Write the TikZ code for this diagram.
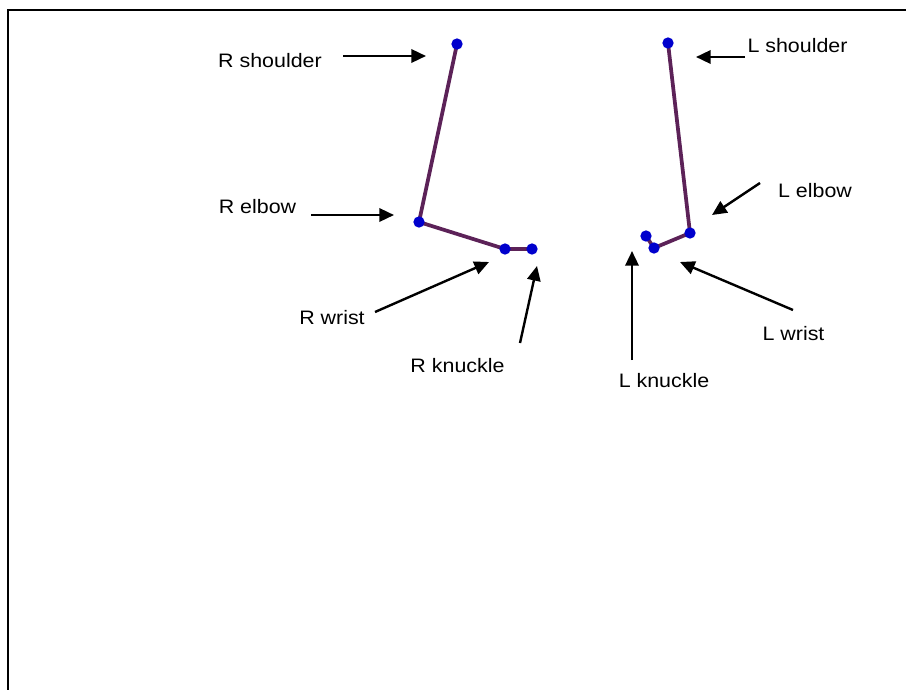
\documentclass[tikz,border=0pt]{standalone}
\usepackage{fontspec}
\setmainfont{Liberation Sans}
\usetikzlibrary{arrows.meta}
\definecolor{limb}{RGB}{92,34,88}
\definecolor{joint}{RGB}{0,0,205}
\tikzset{
  lbl/.style={inner sep=0pt, anchor=center},
  ptr/.style={draw=black, line width=1.8pt, -{Triangle[length=11pt,width=10pt]}},
  limbline/.style={draw=limb, line width=2.8pt, line join=round},
  jointdot/.style={circle, fill=joint, inner sep=0pt, minimum size=8.5pt},
  frame/.style={draw=black, line width=1.8pt}
}
\newcommand{\lbltext}[1]{\scalebox{1.1}[1]{\fontsize{14.6}{17}\selectfont #1}}
\begin{document}
\begin{tikzpicture}[x=0.75pt,y=-0.75pt]
\useasboundingbox (0,0) rectangle (906,689);
% frame
\coordinate (fbl) at (8,690);
\coordinate (ftl) at (8,10);
\coordinate (ftr) at (907,10);
\draw[frame] (fbl) -- (ftl) -- (ftr);
% joints
\coordinate (rs) at (457,44);
\coordinate (re) at (419,222);
\coordinate (rw) at (505,249);
\coordinate (rk) at (532,249);
\coordinate (ls) at (668,43);
\coordinate (le) at (690,233);
\coordinate (lw) at (654,248);
\coordinate (lk) at (646,236);
\draw[limbline] (rs) -- (re) -- (rw) -- (rk);
\draw[limbline] (ls) -- (le) -- (lw) -- (lk);
\foreach \p in {rs,re,rw,rk,ls,le,lw,lk} \node[jointdot] at (\p) {};
% labels
\node[lbl] (lrs) at (270,61) {\lbltext{R shoulder}};
\node[lbl] (lre) at (257.5,207) {\lbltext{R elbow}};
\node[lbl] (lrw) at (332,318) {\lbltext{R wrist}};
\node[lbl] (lrk) at (457.5,366) {\lbltext{R knuckle}};
\node[lbl] (lls) at (797.5,46) {\lbltext{L shoulder}};
\node[lbl] (lle) at (815,191) {\lbltext{L elbow}};
\node[lbl] (llw) at (793.5,334) {\lbltext{L wrist}};
\node[lbl] (llk) at (664,381) {\lbltext{L knuckle}};
% arrow ends
\coordinate (a1s) at (343,56);  \coordinate (a1e) at (426,56);
\coordinate (a2s) at (311,215); \coordinate (a2e) at (394,215);
\coordinate (a3s) at (375,312); \coordinate (a3e) at (489,262);
\coordinate (a4s) at (520,343); \coordinate (a4e) at (537,266);
\coordinate (a5s) at (745,57);  \coordinate (a5e) at (696,57);
\coordinate (a6s) at (760,183); \coordinate (a6e) at (712,215);
\coordinate (a7s) at (793,310); \coordinate (a7e) at (680,262);
\coordinate (a8s) at (632,360); \coordinate (a8e) at (632,251);
\foreach \i in {1,...,8} \draw[ptr] (a\i s) -- (a\i e);
\end{tikzpicture}
\end{document}
